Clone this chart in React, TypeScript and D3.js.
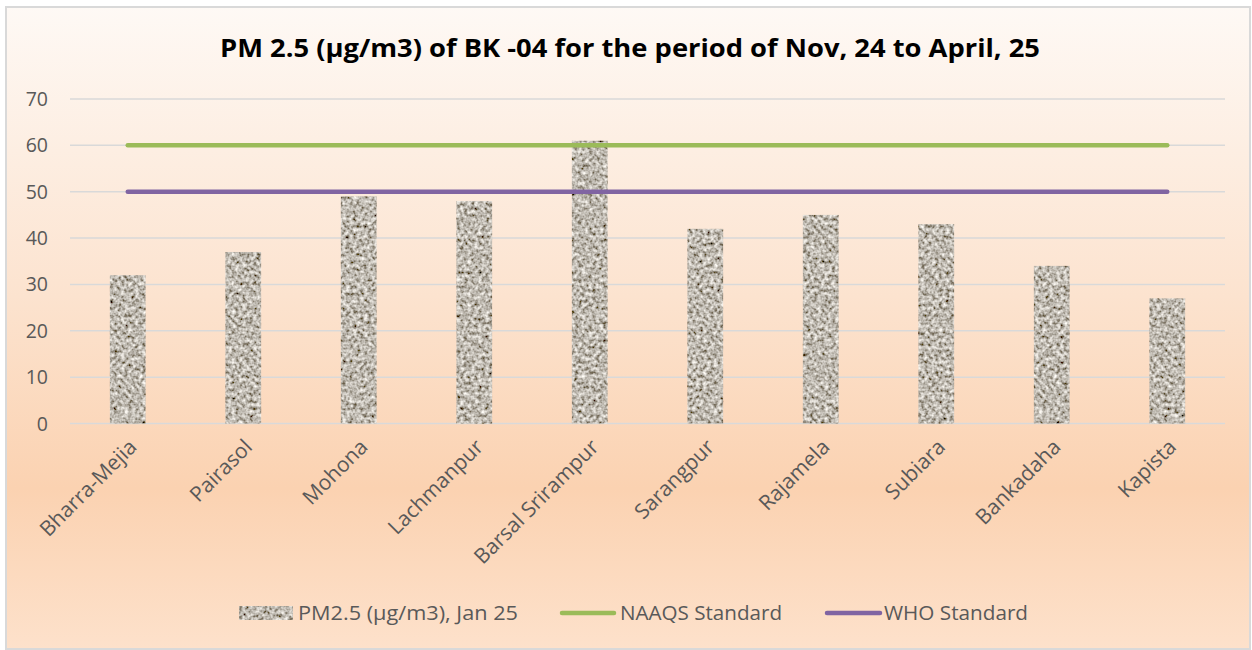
import React from "react";
import * as d3 from "d3";

const categories = [
  "Bharra-Mejia",
  "Pairasol",
  "Mohona",
  "Lachmanpur",
  "Barsal Srirampur",
  "Sarangpur",
  "Rajamela",
  "Subiara",
  "Bankadaha",
  "Kapista",
];
const pmValues = [32, 37, 49, 48, 61, 42, 45, 43, 34, 27];
const naaqsStandard = 60;
const whoStandard = 50;
const yTicks = [0, 10, 20, 30, 40, 50, 60, 70];
const title = "PM 2.5 (µg/m3) of BK -04 for the period of Nov, 24 to April, 25";
const seriesNames = ["PM2.5 (µg/m3), Jan 25", "NAAQS Standard", "WHO Standard"];

const W = 1252;
const H = 650;
const FONT = "'Open Sans', 'Noto Sans', sans-serif";

export default function App() {
  const x = d3.scaleBand<string>().domain(categories).range([70, 1225]).paddingInner(0.69).paddingOuter(0.345);
  const y = d3.scaleLinear().domain([0, 70]).range([423.5, 99]);
  const first = x(categories[0])! + x.bandwidth() / 2;
  const last = x(categories[categories.length - 1])! + x.bandwidth() / 2;
  const line = d3.line<[number, number]>().x((d) => d[0]).y((d) => d[1]);

  return (
    <svg width={W} height={H} style={{ position: "absolute", left: 0, top: 0 }} fontFamily={FONT}>
      <defs>
        <linearGradient id="bg" x1="0" y1="0" x2="0" y2="1">
          <stop offset="0" stopColor="#fef9f5" />
          <stop offset="0.45" stopColor="#fce3cf" />
          <stop offset="0.75" stopColor="#fbd2b1" />
          <stop offset="1" stopColor="#fde1cb" />
        </linearGradient>
        <filter id="granite" filterUnits="userSpaceOnUse" x="0" y="0" width={W} height={H}>
          <feTurbulence type="fractalNoise" baseFrequency="0.28" numOctaves="2" seed="7" result="n" />
          <feColorMatrix
            in="n"
            type="matrix"
            values="1.4 0 0 0 -0.18  1.4 0 0 0 -0.21  1.4 0 0 0 -0.26  0 0 0 0 1"
            result="c"
          />
          <feComposite in="c" in2="SourceGraphic" operator="in" />
        </filter>
      </defs>
      <rect x={6} y={7} width={1244} height={642} fill="url(#bg)" stroke="#d9d9d9" strokeWidth={2} />
      <text x={630} y={57} textAnchor="middle" fontSize={25} fontWeight="bold" fill="#000" textLength={820} lengthAdjust="spacingAndGlyphs">
        {title}
      </text>
      {yTicks.map((t) => (
        <g key={t}>
          <line x1={70} x2={1225} y1={y(t)} y2={y(t)} stroke="#d9d9d9" strokeWidth={1.5} />
          <text x={48} y={y(t)} dy="0.36em" textAnchor="end" fontSize={19.5} fill="#595959">
            {t}
          </text>
        </g>
      ))}
      {categories.map((c, i) => (
        <rect
          key={c}
          x={x(c)}
          y={y(pmValues[i])}
          width={x.bandwidth()}
          height={y(0) - y(pmValues[i])}
          fill="#999"
          filter="url(#granite)"
        />
      ))}
      <path d={line([[first, y(naaqsStandard)], [last, y(naaqsStandard)]])!} stroke="#9bbb59" strokeWidth={4.5} strokeLinecap="round" fill="none" />
      <path d={line([[first, y(whoStandard)], [last, y(whoStandard)]])!} stroke="#8064a2" strokeWidth={4.5} strokeLinecap="round" fill="none" />
      {categories.map((c) => {
        const cx = x(c)! + x.bandwidth() / 2 + 5;
        const cy = 443;
        return (
          <text
            key={c}
            transform={`translate(${cx},${cy}) rotate(-45)`}
            textAnchor="end"
            fontSize={21}
            fill="#595959"
            dy="0.35em"
          >
            {c}
          </text>
        );
      })}
      <g fontSize={20} fill="#595959">
        <rect x={239} y={606} width={54} height={14} fill="#999" filter="url(#granite)" />
        <text x={298} y={613} dy="0.35em" textLength={220} lengthAdjust="spacingAndGlyphs">{seriesNames[0]}</text>
        <line x1={562} x2={614} y1={613} y2={613} stroke="#9bbb59" strokeWidth={4.5} strokeLinecap="round" />
        <text x={620} y={613} dy="0.35em" textLength={162} lengthAdjust="spacingAndGlyphs">{seriesNames[1]}</text>
        <line x1={827} x2={880} y1={613} y2={613} stroke="#8064a2" strokeWidth={4.5} strokeLinecap="round" />
        <text x={884} y={613} dy="0.35em" textLength={144} lengthAdjust="spacingAndGlyphs">{seriesNames[2]}</text>
      </g>
    </svg>
  );
}
